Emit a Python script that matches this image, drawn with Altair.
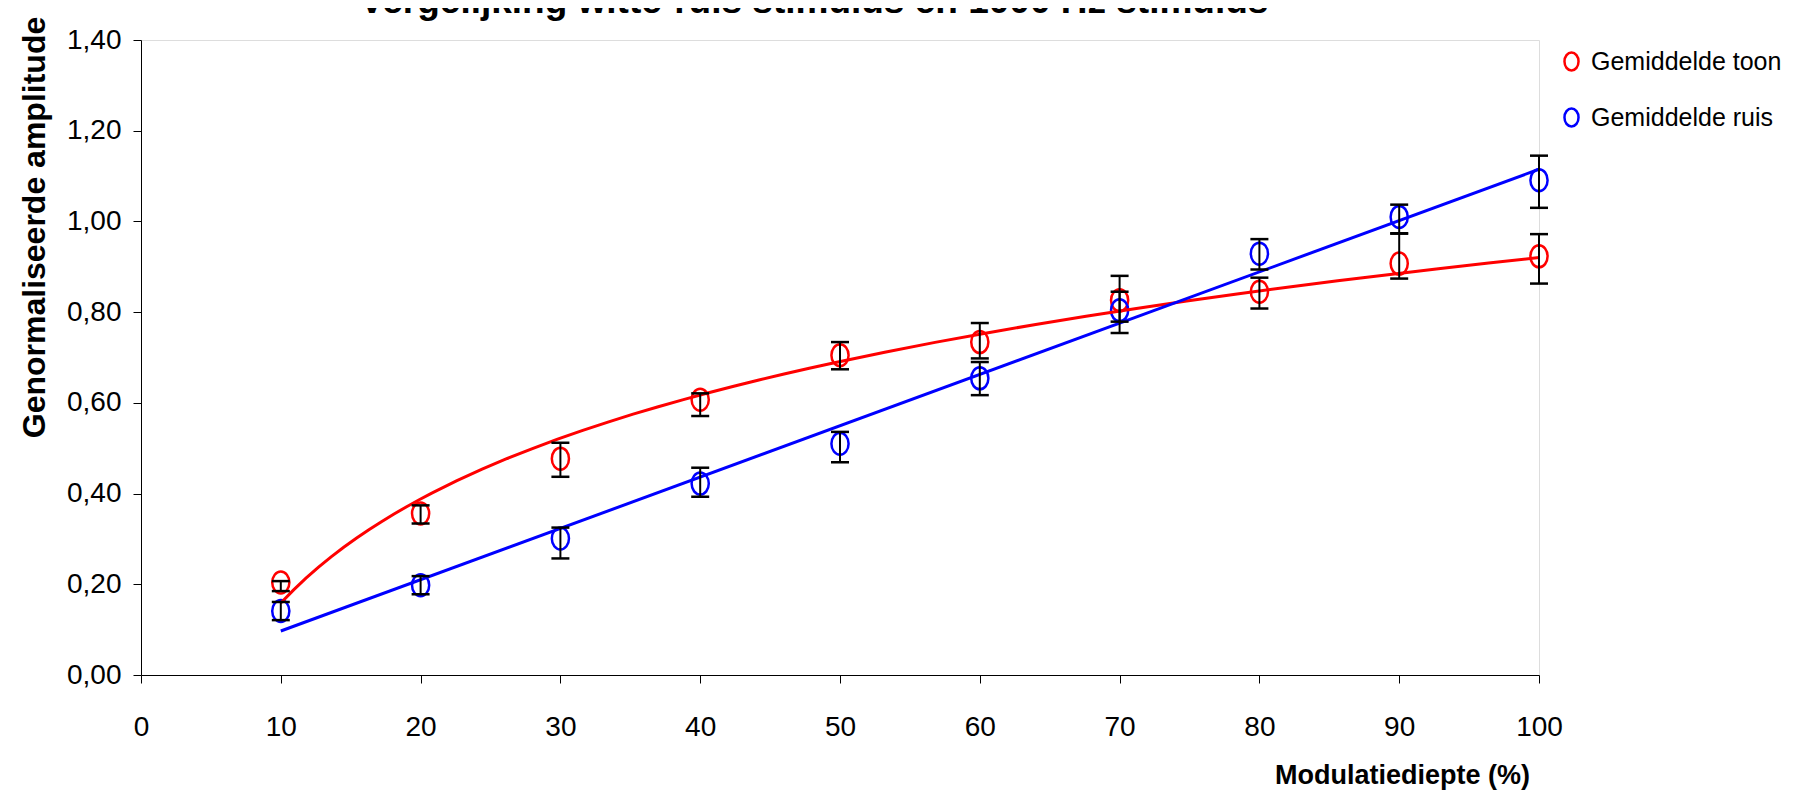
import altair as alt
import pandas as pd

# ---- data ----
modulatie = [10, 20, 30, 40, 50, 60, 70, 80, 90, 100]

toon = [0.204, 0.356, 0.477, 0.607, 0.705, 0.734, 0.826, 0.845, 0.907, 0.923]
toon_laag = [0.185, 0.334, 0.437, 0.571, 0.674, 0.698, 0.779, 0.808, 0.874, 0.863]
toon_hoog = [0.207, 0.374, 0.512, 0.621, 0.734, 0.776, 0.880, 0.876, 0.974, 0.972]

ruis = [0.141, 0.198, 0.301, 0.422, 0.510, 0.654, 0.804, 0.929, 1.010, 1.091]
ruis_laag = [0.121, 0.178, 0.257, 0.393, 0.469, 0.617, 0.754, 0.894, 0.973, 1.030]
ruis_hoog = [0.161, 0.218, 0.325, 0.457, 0.536, 0.690, 0.845, 0.961, 1.037, 1.145]

reeksen = ["Gemiddelde toon", "Gemiddelde ruis"]
kleuren = ["#FF0000", "#0000FF"]
x_ticks = [0, 10, 20, 30, 40, 50, 60, 70, 80, 90, 100]
y_ticks = [0.0, 0.2, 0.4, 0.6, 0.8, 1.0, 1.2, 1.4]

titel = "Vergelijking witte-ruis stimulus en 1000 Hz stimulus"
x_titel = "Modulatiediepte (%)"
y_titel = "Genormaliseerde amplitude"

rows = []
for naam, vals, lo, hi in [(reeksen[0], toon, toon_laag, toon_hoog),
                           (reeksen[1], ruis, ruis_laag, ruis_hoog)]:
    for x, v, l, h in zip(modulatie, vals, lo, hi):
        rows.append({"reeks": naam, "x": x, "y": v, "lo": l, "hi": h})
df = pd.DataFrame(rows)

FONT = "Liberation Sans, Arial, sans-serif"
ELLIPSE = "M-0.78,0A0.78,1,0,1,0,0.78,0A0.78,1,0,1,0,-0.78,0Z"

x_scale = alt.Scale(domain=[0, 100], nice=False, zero=False)
y_scale = alt.Scale(domain=[0, 1.4], nice=False)

base = alt.Chart(df)

points = base.mark_point(shape=ELLIPSE, filled=False, size=484, strokeWidth=2.5, opacity=1).encode(
    x=alt.X("x:Q", scale=x_scale, axis=alt.Axis(
        values=x_ticks, grid=False, tickSize=8, tickColor="black", domainColor="black",
        labelFont=FONT, labelFontSize=28, labelColor="black", labelPadding=30,
        labelFlush=False, labelOverlap=False,
        title=x_titel, titleFont=FONT, titleFontSize=27, titleFontWeight="bold",
        titleColor="black", titleX=1261, titleY=100, titleBaseline="middle",
        titleAlign="center", titleAnchor="start")),
    y=alt.Y("y:Q", scale=y_scale, axis=alt.Axis(
        values=y_ticks, grid=False, tickSize=8, tickColor="black", domainColor="black",
        labelExpr="replace(format(datum.value, '.2f'), '.', ',')",
        labelFont=FONT, labelFontSize=28, labelColor="black", labelPadding=12,
        labelFlush=False, labelOverlap=False,
        title=y_titel, titleFont=FONT, titleFontSize=32, titleFontWeight="bold",
        titleColor="black", titleX=-107, titleY=187, titleAngle=270,
        titleBaseline="middle", titleAlign="center", titleAnchor="start")),
    color=alt.Color("reeks:N", scale=alt.Scale(domain=reeksen, range=kleuren),
                    legend=alt.Legend(title=None, orient="none", legendX=1418, legendY=9,
                                      symbolType=ELLIPSE, symbolSize=324, symbolStrokeWidth=2.5,
                                      labelFont=FONT, labelFontSize=25, labelColor="black",
                                      labelLimit=0, labelOffset=7, rowPadding=27, padding=0)),
)

toon_lijn = base.transform_filter(alt.datum.reeks == reeksen[0]).transform_regression(
    "x", "y", method="log", extent=[10, 100]
).mark_line(color=kleuren[0], strokeWidth=3).encode(x="x:Q", y="y:Q")

ruis_lijn = base.transform_filter(alt.datum.reeks == reeksen[1]).transform_regression(
    "x", "y", method="linear", extent=[10, 100]
).mark_line(color=kleuren[1], strokeWidth=3).encode(x="x:Q", y="y:Q")

staven = base.mark_rule(color="black", strokeWidth=2).encode(x="x:Q", y="lo:Q", y2="hi:Q")
kap_laag = base.mark_tick(color="black", orient="horizontal", size=18, thickness=2.5, opacity=1).encode(
    x="x:Q", y="lo:Q")
kap_hoog = base.mark_tick(color="black", orient="horizontal", size=18, thickness=2.5, opacity=1).encode(
    x="x:Q", y="hi:Q")

chart = alt.layer(points, toon_lijn, ruis_lijn, staven, kap_laag, kap_hoog).properties(
    width=1398, height=635,
    title=alt.TitleParams(text=titel, font=FONT, fontSize=37, fontWeight="bold", color="black",
                          anchor="middle", dx=-26, dy=13, offset=8),
    autosize=alt.AutoSizeParams(type="none"),
    padding={"left": 133, "top": 32, "right": 246, "bottom": 115},
).configure_view(stroke=None).configure(background="white")

chart.save("out.html", embed_options={"renderer": "svg", "actions": False})
